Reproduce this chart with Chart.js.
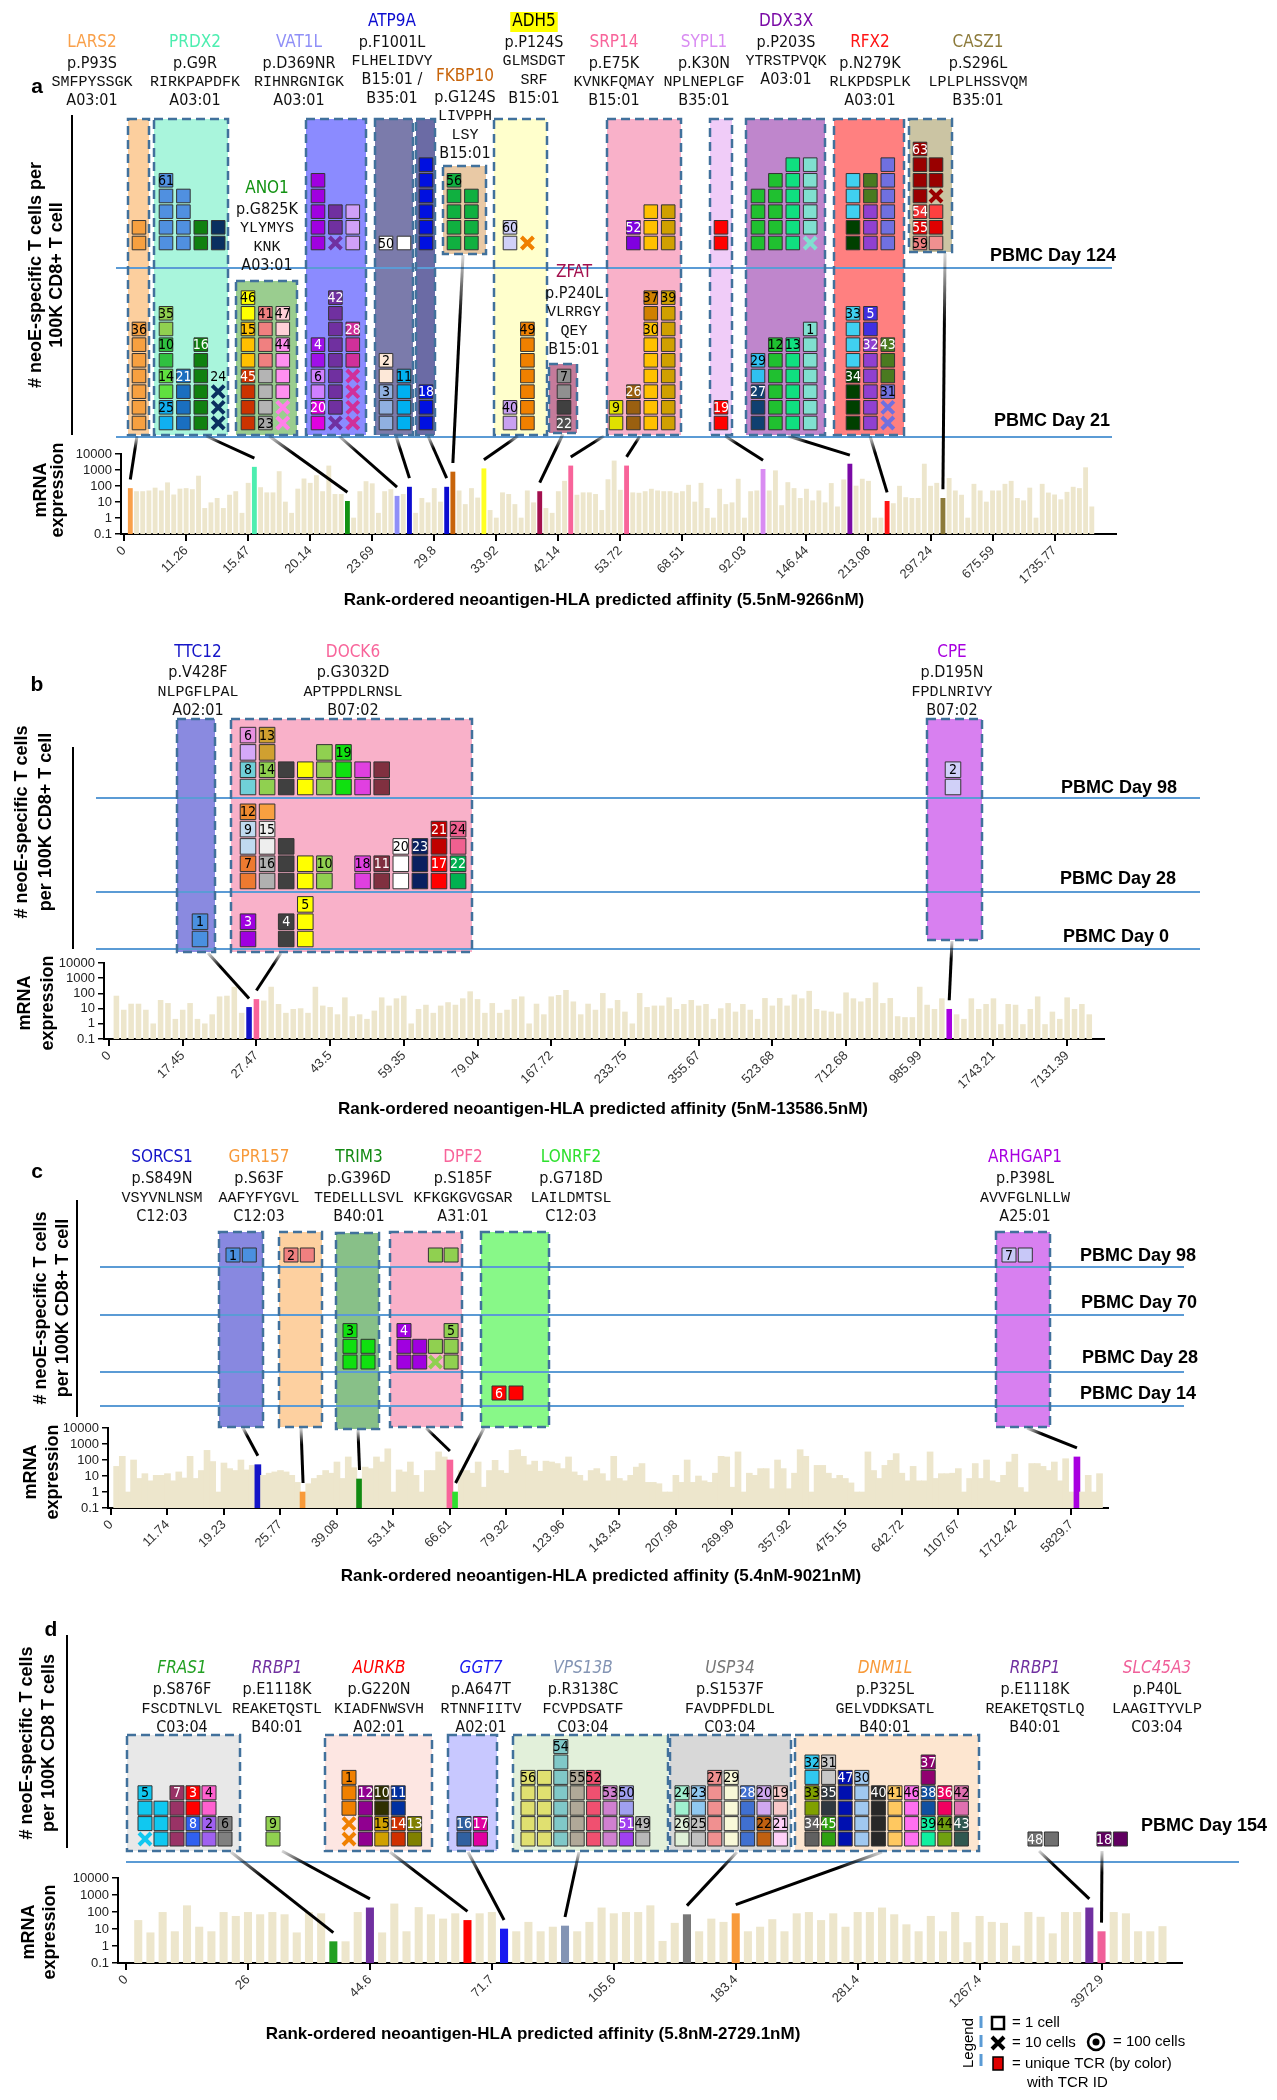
<!DOCTYPE html>
<html>
<head>
<meta charset="utf-8">
<title>neoE-specific T cells vs neoantigen rank</title>
<script src="https://cdn.jsdelivr.net/npm/chart.js@4.4.1/dist/chart.umd.min.js"></script>
<style>
  body { margin: 0; background: #fff; }
  #wrap { position: relative; width: 1277px; height: 2100px; overflow: hidden; background: #fff; }
  canvas { position: absolute; left: 0; }
</style>
</head>
<body>
<div id="wrap">
  <canvas id="panelA" width="1277" height="625" style="top:0px"></canvas>
  <canvas id="panelB" width="1277" height="500" style="top:625px"></canvas>
  <canvas id="panelC" width="1277" height="465" style="top:1125px"></canvas>
  <canvas id="panelD" width="1277" height="510" style="top:1590px"></canvas>
</div>
<script>
const NARROW = '"Liberation Sans Narrow", "DejaVu Sans Condensed", "Arial Narrow", sans-serif';
const SANS = '"Liberation Sans", Arial, Helvetica, sans-serif';
const MONO = '"Liberation Mono", "Courier New", monospace';
const BEIGE = '#ede6cc';

// ---------------- panel a ----------------
const aGene = ['LARS2','PRDX2','ANO1','VAT1L','ATP9A','FKBP10','ADH5','ZFAT','SRP14','SYPL1','DDX3X','RFX2','CASZ1'];
const aMut = ['p.P93S','p.G9R','p.G825K','p.D369NR','p.F1001L','p.G124S','p.P124S','p.P240L','p.E75K','p.K30N','p.P203S','p.N279K','p.S296L'];
const aPep = ['SMFPYSSGK','RIRKPAPDFK','YLYMYS\nKNK','RIHNRGNIGK','FLHELIDVY','LIVPPH\nLSY','GLMSDGT\nSRF','VLRRGY\nQEY','KVNKFQMAY','NPLNEPLGF','YTRSTPVQK','RLKPDSPLK','LPLPLHSSVQM'];
const aHla = ['A03:01','A03:01','A03:01','A03:01','B15:01 /\nB35:01','B15:01','B15:01','B15:01','B15:01','B35:01','A03:01','A03:01','B35:01'];
const aDays = ['PBMC Day 21','PBMC Day 124'];
const aTicks = ['0','11.26','15.47','20.14','23.69','29.8','33.92','42.14','53.72','68.51','92.03','146.44','213.08','297.24','675.59','1735.77'];
const aMrna = [70,45,45,50,75,50,160,28,65,70,
  60,420,4,9,17,4,27,45,2,150,
  1500,80,38,38,800,10,2,65,280,150,
  450,45,1800,30,30,11,1,45,190,140,
  2,45,60,23,30,85,2,17,9,70,
  10,85,750,50,7,70,18,1200,3,1,
  38,30,7,1,50,9,45,4,2,45,
  200,1800,27,38,38,30,3,250,3700,55,
  1800,38,36,45,64,50,45,45,36,45,
  113,10,150,4,1,64,7,9,270,1,
  45,50,1100,50,900,6,165,70,17,64,
  12,50,9,145,5,245,2350,100,270,200,
  1,1,11,8,98,19,17,17,2350,98,
  150,17,300,50,27,1,130,50,10,50,
  50,130,200,17,12,75,1,130,37,28,
  14,41,85,70,1400,5];
// bar rank -> gene
const aHit = [[1,'LARS2'],[21,'PRDX2'],[36,'ANO1'],[44,'VAT1L'],[46,'ATP9A'],[52,'ATP9A'],[53,'FKBP10'],[58,'ADH5'],[67,'ZFAT'],[72,'SRP14'],[81,'SRP14'],[103,'SYPL1'],[117,'DDX3X'],[123,'RFX2'],[132,'CASZ1']];
const aBoxGene = ['LARS2','PRDX2','ANO1','VAT1L','ATP9A','ATP9A','FKBP10','ADH5','ZFAT','SRP14','SYPL1','DDX3X','RFX2','CASZ1'];
const aLinks = [[0,1],[1,21],[2,36],[3,44],[4,46],[5,52],[6,53],[7,58],[8,67],[9,72],[9,81],[10,103],[11,117],[12,123],[13,132]];
// per box: [day21 columns, day124 columns]; column = segments from bottom [colour, count, TCR id, 'x' = 10 cells]
const aCells = [
  [ [[['#f7a040',7,'36']]], [[['#f7a040',2]]] ],
  [ [ [['#10b0f0',2,'25'],['#60e040',2,'14'],['#30c040',2,'10'],['#90d050',2,'35']],
      [['#1a6fc0',4,'21']],
      [['#108010',6,'16']],
      [['#0a3060',3,'','x'],['',0,'24']] ],
    [ [['#5090e0',5,'61']], [['#5090e0',4]], [['#108010',2]], [['#0a3060',2]] ] ],
  [ [ [['#cc3300',4,'45'],['#ffc000',3,'15'],['#ffff00',2,'46']],
      [['#a8a8a8',1,'23'],['#b4b4b4',3],['#f08080',4,'41']],
      [['#ff80e8',2,'','x'],['#ff90f0',4,'44'],['#ffd0d8',2,'47']] ],
    [] ],
  [ [ [['#e000e0',2,'20'],['#d080ff',2,'6'],['#a010e8',2,'4']],
      [['#7030a0',1,'','x'],['#7030a0',8,'42']],
      [['#d0309a',4,'','x'],['#d0309a',3,'28']] ],
    [ [['#a000e0',5]], [['#7030a0',1,'','x'],['#7030a0',2]], [['#d0a0f8',3]] ] ],
  [ [ [['#90b0e0',3,'3'],['#fde8d8',2,'2']], [['#00b0f0',4,'11']] ],
    [ [['#ffffff',1,'50']], [['#ffffff',1]] ] ],
  [ [ [['#0010e0',3,'18']] ], [ [['#0010e0',6]] ] ],
  [ [], [ [['#10b040',5,'56']], [['#10b040',4]] ] ],
  [ [ [['#c8a0f0',2,'40']], [['#f08000',7,'49']] ],
    [ [['#d0d0f8',2,'60']], [['#f08000',1,'','x']] ] ],
  [ [ [['#505050',1,'22'],['#404040',1],['#909090',2,'7']] ], [] ],
  [ [ [['#e0e000',2,'9']], [['#9a6010',3,'26']], [['#ffc000',7,'30'],['#d08000',2,'37']], [['#d0a000',9,'39']] ],
    [ [], [['#8000e0',2,'52']], [['#ffc000',3]], [['#d0a000',3]] ] ],
  [ [ [['#ff0000',2,'19']] ], [ [['#ff0000',2]] ] ],
  [ [ [['#104070',3,'27'],['#30c0f0',2,'29']], [['#20c030',6,'12']], [['#10e080',6,'13']], [['#80e0d0',7,'1']] ],
    [ [['#20c030',4]], [['#20c030',5]], [['#10e080',6]], [['#80e0d0',1,'','x'],['#80e0d0',5]] ] ],
  [ [ [['#004000',4,'34'],['#40d0f0',4,'33']], [['#9040d0',6,'32'],['#4030e0',2,'5']], [['#7070e0',2,'','x'],['#7070e0',1,'31'],['#4a7a20',3,'43']] ],
    [ [['#004000',2],['#40d0f0',3]], [['#9040d0',3],['#4a7a20',2]], [['#7070e0',6]] ] ],
  [ [],
    [ [['#f08080',1,'59'],['#e00000',1,'55'],['#f03030',1,'54'],['#990000',4,'63']],
      [['#f09090',1],['#e00000',1],['#ff4040',1],['#990000',1,'','x'],['#990000',2]] ] ]
];

// ---------------- panel b ----------------
const bGene = ['TTC12','DOCK6','CPE'];
const bMut = ['p.V428F','p.G3032D','p.D195N'];
const bPep = ['NLPGFLPAL','APTPPDLRNSL','FPDLNRIVY'];
const bHla = ['A02:01','B07:02','B07:02'];
const bDays = ['PBMC Day 0','PBMC Day 28','PBMC Day 98'];
const bTicks = ['0','17.45','27.47','43.5','59.35','79.04','167.72','233.75','355.67','523.68','712.68','985.99','1743.21','7131.39'];
const bMrna = [67,8,20,20,8,1,35,22,2,8,
  22,2,1,4,60,67,260,5,12,40,
  32,260,19,5,9,10,5,260,15,12,
  4,52,3,4,2,7,52,15,45,67,
  1,9,17,5,15,25,17,45,130,40,
  5,22,5,8,40,60,1,20,4,60,
  75,160,28,4,20,8,100,10,35,6,
  1,100,12,15,15,52,9,19,35,15,
  19,2,10,22,6,19,8,2,47,15,
  47,15,80,45,140,9,7,6,4.5,110,
  45,28,47,500,22,47,3,2.6,2.6,260,
  17,9,45,9,4,2,45,9,19,45,
  0.9,19,17,0.9,9,60,0.9,6,2,52,
  9,19,4];
const bHit = [[19,'TTC12'],[20,'DOCK6'],[114,'CPE']];
const bBoxGene = ['TTC12','DOCK6','CPE'];
const bLinks = [[0,19],[1,20],[2,114]];
const bCells = [
  [ [ [['#4a90e0',2,'1']] ], [], [] ],
  [ [ [['#a000e0',2,'3']], [], [['#404040',2,'4']], [['#ffff00',3,'5']] ],
    [ [['#ee7a30',2,'7'],['#c0daf0',2,'9'],['#f08a30',1,'12']],
      [['#b0b0b0',2,'16'],['#eeeeee',2,'15'],['#f8a040',1]],
      [['#404040',3]], [['#ffff00',2]], [['#90d050',2,'10']], [],
      [['#e040e0',2,'18']], [['#803040',2,'11']], [['#ffffff',3,'20']], [['#0a2060',3,'23']],
      [['#ff0000',2,'17'],['#c00000',2,'21']], [['#00b050',2,'22'],['#f06090',2,'24']] ],
    [ [['#70d0d8',2,'8'],['#d4a8f8',1],['#e890e0',1,'6']], [['#90d050',2,'14'],['#d0a030',2,'13']],
      [['#404040',2]], [['#ffff00',2]], [['#90d050',3]], [['#10e010',3,'19']], [['#e040e0',2]], [['#803040',2]] ] ],
  [ [], [], [ [['#d0d0f8',2,'2']] ] ]
];

// ---------------- panel c ----------------
const cGene = ['SORCS1','GPR157','TRIM3','DPF2','LONRF2','ARHGAP1'];
const cMut = ['p.S849N','p.S63F','p.G396D','p.S185F','p.G718D','p.P398L'];
const cPep = ['VSYVNLNSM','AAFYFYGVL','TEDELLLSVL','KFKGKGVGSAR','LAILDMTSL','AVVFGLNLLW'];
const cHla = ['C12:03','C12:03','B40:01','A31:01','C12:03','A25:01'];
const cDays = ['PBMC Day 14','PBMC Day 28','PBMC Day 70','PBMC Day 98'];
const cTicks = ['0','11.74','19.23','25.77','39.08','53.14','66.61','79.32','123.96','143.43','207.98','269.99','357.92','475.15','642.72','1107.67','1712.42','5829.7'];
const cMrna = [40,170,1,100,7,14,5,11,11,14,
  5,18,7.5,170,7,22,400,80,1,65,
  29,22,100,24,46,51,11,15,18,22,
  18,11,4,1,3.3,7,11,22,15,75,
  7,155,33,6.5,36,29,155,75,500,1,
  24,18,75,11,1,22,22,320,155,100,
  1,22,22,15,75,2,22,95,22,15,
  400,440,170,50,85,20,85,75,60,29,
  155,18,11,5,22,29,14,5,170,7,
  5,11,36,60,4,4,3.3,1,1,11,
  4,100,4,10,5,4,15,170,155,2,
  320,1,15,11,29,29,1.6,100,29,1.6,
  15,440,170,1,46,46,15,7,11,7,
  3.7,1,1,320,22,7,46,95,250,15,
  5,40,5,5,320,7,14,14,15,29,
  1,7,60,7,100,5,4,11,75,230,
  1.9,1,60,60,40,22,75,5,120,1,
  155,1,11,1,14];
const cHit = [[26,'SORCS1'],[34,'GPR157'],[44,'TRIM3'],[60,'DPF2'],[61,'LONRF2'],[171,'ARHGAP1']];
const cBoxGene = ['SORCS1','GPR157','TRIM3','DPF2','LONRF2','ARHGAP1'];
const cLinks = [[0,26],[1,34],[2,44],[3,60],[4,61],[5,171]];
const cCells = [
  [ [], [], [], [ [['#4a90e0',1,'1']], [['#4a90e0',1]] ] ],
  [ [], [], [], [ [['#f08080',1,'2']], [['#f08080',1]] ] ],
  [ [], [ [['#10e010',3,'3']], [['#10e010',2]] ], [], [] ],
  [ [], [ [['#a000e0',3,'4']], [['#a000e0',2]], [['#90d050',1,'','x'],['#90d050',1]], [['#90d050',3,'5']] ], [],
    [ [], [], [['#90d050',1]], [['#90d050',1]] ] ],
  [ [ [['#ff0000',1,'6']], [['#ff0000',1]] ], [], [], [] ],
  [ [], [], [], [ [['#c8c8f8',1,'7']], [['#c8c8f8',1]] ] ]
];

// ---------------- panel d ----------------
const dGene = ['FRAS1','RRBP1','AURKB','GGT7','VPS13B','USP34','DNM1L','RRBP1','SLC45A3'];
const dMut = ['p.S876F','p.E1118K','p.G220N','p.A647T','p.R3138C','p.S1537F','p.P325L','p.E1118K','p.P40L'];
const dPep = ['FSCDTNLVL','REAKETQSTL','KIADFNWSVH','RTNNFIITV','FCVPDSATF','FAVDPFDLDL','GELVDDKSATL','REAKETQSTLQ','LAAGITYVLP'];
const dHla = ['C03:04','B40:01','A02:01','A02:01','C03:04','C03:04','B40:01','B40:01','C03:04'];
const dDays = ['PBMC Day 154'];
const dTicks = ['0','26','44.6','71.7','105.6','183.4','281.4','1267.4','3972.9'];
const dMrna = [32,6,95,7,235,13,7,95,56,95,
  70,95,70,6,95,80,1.8,1.8,95,175,
  6,300,7,185,70,39,80,32,80,95,
  10,7,25,7,13,15,7,25,175,80,
  95,95,235,1.9,22,70,7,39,25,80,
  7,13,36,7,80,95,32,80,13,95,
  95,175,70,18,7,56,7,95,1.6,56,
  25,22,1,95,50,5.3,95,95,175,7,
  95,80,7,7,14];
const dHit = [[17,'FRAS1'],[20,'RRBP1'],[28,'AURKB'],[31,'GGT7'],[36,'VPS13B'],[46,'USP34'],[50,'DNM1L'],[79,'RRBP1'],[80,'SLC45A3']];
const dBoxGene = ['FRAS1','RRBP1','AURKB','GGT7','VPS13B','USP34','DNM1L','RRBP1','SLC45A3'];
const dLinks = [[0,17],[1,20],[2,28],[3,31],[4,36],[5,46],[6,50],[7,79],[8,80]];
const dCells = [
  [ [ [['#10c8f0',1,'','x'],['#10c8f0',3,'5']], [['#10c8f0',3]], [['#993366',4,'7']],
      [['#3060f0',2,'8'],['#ff0000',2,'3']], [['#a060f0',2,'2'],['#ff60d0',2,'4']], [['#808080',2,'6']] ] ],
  [ [ [['#90d050',2,'9']] ] ],
  [ [ [['#f08000',2,'','x'],['#f08000',3,'1']], [['#900090',4,'12']], [['#d0a000',2,'15'],['#303000',2,'10']],
      [['#d03000',2,'14'],['#0030a0',2,'11']], [['#808000',2,'13']] ] ],
  [ [ [['#3060a0',2,'16']], [['#e000a0',2,'17']] ] ],
  [ [ [['#e0e070',5,'56']], [['#e0e070',5]], [['#80c8c8',7,'54']], [['#b0a898',5,'55']], [['#f05070',5,'52']],
      [['#d080d0',4,'53']], [['#a040f0',2,'51'],['#a0a0f0',2,'50']], [['#b8b8b8',2,'49']] ] ],
  [ [ [['#e0f0d8',2,'26'],['#a0f0d0',2,'24']], [['#c0c0c0',2,'25'],['#90c8f0',2,'23']], [['#f09090',5,'27']],
      [['#f8f8d8',5,'29']], [['#4070d0',4,'28']], [['#c06010',2,'22'],['#d0a8f0',2,'20']], [['#ffd0f8',2,'21'],['#f8c8c8',2,'19']] ] ],
  [ [ [['#606060',2,'34'],['#80a000',2,'33'],['#30c8f0',2,'32']], [['#30a010',2,'45'],['#303840',2,'35'],['#c8c8c8',2,'31']],
      [['#0010b0',5,'47']], [['#a0c8f0',5,'30']], [['#282828',4,'40']], [['#ffc860',4,'41']], [['#ff70f0',4,'46']],
      [['#10f0a0',2,'39'],['#1050a0',2,'38'],['#900070',2,'37']], [['#70a010',2,'44'],['#f00060',2,'36']],
      [['#305850',2,'43'],['#e070b0',2,'42']] ] ],
  [ [ [['#707070',1,'48']], [['#707070',1]] ] ],
  [ [ [['#600060',1,'18']], [['#600060',1]] ] ]
];

// ---------------- colours and layout (page pixels) ----------------
const aCol = {LARS2:'#f9a04a', PRDX2:'#4deeb0', ANO1:'#129212', VAT1L:'#8f8ff7', ATP9A:'#0c0cd0', FKBP10:'#c8640a', ADH5:'#ffff22', ZFAT:'#a3104e', SRP14:'#f8649a', SYPL1:'#d98cf2', DDX3X:'#7a0aa6', RFX2:'#ff1414', CASZ1:'#8c7a3a'};
const bCol = {TTC12:'#1414c8', DOCK6:'#f8649a', CPE:'#a800e0'};
const cCol = {SORCS1:'#1414c8', GPR157:'#f89a3a', TRIM3:'#128a12', DPF2:'#f8649a', LONRF2:'#2ee02e', ARHGAP1:'#a800e0'};
const dCol = {FRAS1:'#22a022', RRBP1:'#7030a0', AURKB:'#ff0000', GGT7:'#1a1af0', VPS13B:'#8394b4', USP34:'#777777', DNM1L:'#f89a3a', SLC45A3:'#f0609a'};

const aLay = {
  letter: 'a', top: 0, L: 121, R: 1116, T: 117, M: 454, B: 534, xH: 91, xMin: -0.5, xMax: 159.9,
  barW: 4.2, sqR: 9.6, crossR: 8.5, pitch: 15.67, colPitch: 17.4,
  dayLine: [437, 268], dayBase: [423, 243], lineX: [116, 1112], dayLabel: [[994, 421], [990, 256]],
  labelXY: [[92,43],[195,43],[267,189],[299,43],[392,22],[465,77],[534,22],[574,273],[614,43],[704,43],[786,22],[870,43],[978,43]],
  gap1: 21, gap: 18.5, nameBg: {ADH5: '#ffff00'},
  boxes: [[128,149,119,435,'#fccf9e',139],[154,228,119,435,'#a9f5dc',166],[236,297,281,435,'#9acd8f',248],
    [306,366,119,435,'#8b8bff',318],[375,413,119,435,'#7b7bab',386,18],[416,435,119,435,'#6b6ba5',426],
    [443,486,166,254,'#e9c9a5',454],[494,547,119,435,'#ffffcc',510],[549,577,364,433,'#c57b9b',564],
    [607,681,119,435,'#f9b1c9',616],[710,732,119,435,'#f0ccf8',721],[746,825,119,435,'#bf86cc',758],
    [834,904,119,435,'#ff8080',853],[909,952,119,252,'#cbc4a3',920,16]],
  linkX: [137,206,269,339,396,428,463,518,563,604,640,725,788,870,945],
  axisLine: [72, 115, 435], letterXY: [37, 87],
  yTitle: [['# neoE-specific T cells per','100K CD8+ T cell'], 36, 57, 275],
  mTitle: [41, 58, 490],
  xTitle: ['Rank-ordered neoantigen-HLA predicted affinity (5.5nM-9266nM)', 604, 600]
};
const bLay = {
  letter: 'b', top: 625, L: 104, R: 1104, T: 717, M: 963, B: 1039, xH: 86, xMin: -0.68, xMax: 135,
  barW: 4.9, sqR: 11, crossR: 8.5, pitch: 17.3, colPitch: 19.1,
  dayLine: [949, 892, 798], dayBase: [939, 881, 787], lineX: [96, 1200], dayLabel: [[1063, 937], [1060, 879], [1061, 788]],
  labelXY: [[198,653],[353,653],[952,653]], gap1: 20, gap: 19, nameBg: {},
  boxes: [[177,215,719,952,'#8a8ae0',200],[231,472,719,952,'#f9b1c9',248],[927,982,719,940,'#d880f0',953]],
  linkX: [208, 281, 952],
  axisLine: [73, 747, 949], letterXY: [37, 685],
  yTitle: [['# neoE-specific T cells','per 100K CD8+ T cell'], 22, 46, 822],
  mTitle: [25, 48, 1003],
  xTitle: ['Rank-ordered neoantigen-HLA predicted affinity (5nM-13586.5nM)', 603, 1109]
};
const cLay = {
  letter: 'c', top: 1125, L: 108, R: 1108, T: 1230, M: 1428, B: 1508, xH: 82, xMin: -0.53, xMax: 176.5,
  barW: 6, sqR: 9.9, crossR: 8.5, pitch: 15.7, colPitch: 16.3,
  dayLine: [1406, 1372, 1315, 1267], dayBase: [1393, 1362, 1303, 1255], lineX: [100, 1184],
  dayLabel: [[1080, 1394], [1082, 1358], [1081, 1303], [1080, 1256]],
  labelXY: [[162,1158],[259,1158],[359,1158],[463,1158],[571,1158],[1025,1158]], gap1: 21, gap: 19, nameBg: {},
  boxes: [[219,263,1232,1427,'#8888e0',233],[279,322,1232,1427,'#fdd0a0',291],[336,379,1233,1429,'#88c088',350,18],
    [390,462,1232,1427,'#f9b1c9',404,15.7],[481,549,1232,1427,'#88f888',499,17],[996,1050,1232,1427,'#d880f0',1009]],
  linkX: [243, 301, 358, 426, 484, 1027],
  axisLine: [77, 1200, 1417], letterXY: [37, 1172],
  yTitle: [['# neoE-specific T cells','per 100K CD8+ T cell'], 41, 63, 1308],
  mTitle: [31, 53, 1472],
  xTitle: ['Rank-ordered neoantigen-HLA predicted affinity (5.4nM-9021nM)', 601, 1576]
};
const dLay = {
  letter: 'd', top: 1590, L: 118, R: 1182, T: 1731, M: 1878, B: 1963, xH: 137, xMin: -0.66, xMax: 86.6,
  barW: 7.4, sqR: 9.9, crossR: 8.5, pitch: 15.4, colPitch: 16.4, italic: true,
  dayLine: [1862], dayBase: [1839], lineX: [126, 1239], dayLabel: [[1141, 1826]],
  labelXY: [[182,1669],[277,1669],[379,1669],[481,1669],[583,1669],[730,1669],[885,1669],[1035,1669],[1157,1669]],
  gap1: 21, gap: 19, nameBg: {},
  boxes: [[127,240,1735,1851,'#e8e8e8',145,16],[265,290,1820,1850,null,273],[325,432,1735,1851,'#fde6e2',349],
    [448,497,1735,1851,'#c8c8ff',464],[513,668,1735,1851,'#e2f0da',528],[670,791,1735,1851,'#d8d8d8',682],
    [795,979,1735,1851,'#fde6d0',812,16.6],[1028,1060,1820,1850,null,1035],[1097,1130,1820,1850,null,1104]],
  linkX: [231, 282, 390, 468, 579, 737, 882, 1039, 1102],
  axisLine: [67, 1635, 1848], letterXY: [51, 1630],
  yTitle: [['# neoE-specific T cells','per 100K CD8 T cells'], 27, 49, 1743],
  mTitle: [29, 50, 1932],
  xTitle: ['Rank-ordered neoantigen-HLA predicted affinity (5.8nM-2729.1nM)', 533, 2034],
  legend: true
};

// turn the clone columns into scatter points
function buildCells(cells, L) {
  const pts = [];
  cells.forEach((days, b) => {
    const bx = L.boxes[b];
    const cp = bx[6] || L.colPitch;
    days.forEach((cols, d) => {
      cols.forEach((col, ci) => {
        let r = 0;
        const x = bx[5] + ci * cp;
        col.forEach(seg => {
          const [c, n, id, kind] = seg;
          if (n === 0) {
            pts.push({x: x, y: L.dayBase[d] - r * L.pitch, c: '#000', txt: true, id: id});
            r++;
            return;
          }
          for (let k = 0; k < n; k++) {
            pts.push({x: x, y: L.dayBase[d] - r * L.pitch, c: c, cross: kind === 'x', id: k === n - 1 ? (id || '') : ''});
            r++;
          }
        });
      });
    });
  });
  return pts;
}

function textOn(hex) {
  const v = parseInt(hex.slice(1), 16);
  const r = (v >> 16) & 255, g = (v >> 8) & 255, b = v & 255;
  const lum = (0.299 * r + 0.587 * g + 0.114 * b) / 255;
  return lum < 0.45 ? '#fff' : '#000';
}

function drawLegend(ctx, X, Y) {
  ctx.save();
  ctx.fillStyle = '#000';
  ctx.textBaseline = 'middle';
  ctx.font = '15px ' + SANS;
  ctx.save();
  ctx.translate(X(969), Y(2043));
  ctx.rotate(-Math.PI / 2);
  ctx.textAlign = 'center';
  ctx.fillText('Legend', 0, 0);
  ctx.restore();
  ctx.strokeStyle = '#5b9bd5';
  ctx.lineWidth = 3;
  ctx.setLineDash([12, 7]);
  ctx.beginPath(); ctx.moveTo(X(981), Y(2016)); ctx.lineTo(X(981), Y(2070)); ctx.stroke();
  ctx.setLineDash([]);
  ctx.strokeStyle = '#000';
  ctx.lineWidth = 2.5;
  ctx.strokeRect(X(992), Y(2017), 12, 12);
  ctx.lineWidth = 4;
  ctx.beginPath();
  ctx.moveTo(X(992), Y(2037)); ctx.lineTo(X(1004), Y(2049));
  ctx.moveTo(X(1004), Y(2037)); ctx.lineTo(X(992), Y(2049));
  ctx.stroke();
  ctx.lineWidth = 2.5;
  ctx.beginPath(); ctx.arc(X(1096), Y(2042), 8, 0, Math.PI * 2); ctx.stroke();
  ctx.beginPath(); ctx.arc(X(1096), Y(2042), 3.5, 0, Math.PI * 2); ctx.fill();
  ctx.fillStyle = '#e00000';
  ctx.fillRect(X(993), Y(2057), 10, 13);
  ctx.lineWidth = 1.5;
  ctx.strokeRect(X(993), Y(2057), 10, 13);
  ctx.fillStyle = '#000';
  ctx.textAlign = 'left';
  ctx.fillText('= 1 cell', X(1012), Y(2023));
  ctx.fillText('= 10 cells', X(1012), Y(2043));
  ctx.fillText('= 100 cells', X(1113), Y(2042));
  ctx.fillText('= unique TCR (by color)', X(1012), Y(2064));
  ctx.fillText('with TCR ID', X(1027), Y(2083));
  ctx.restore();
}

// boxes, time lines, connectors and all the text around the axes
function deco(P) {
  const L = P.lay;
  return {
    id: 'deco',
    beforeDatasetsDraw(chart) {
      const ctx = chart.ctx;
      const X = v => chart.scales.xg.getPixelForValue(v);
      const Y = v => chart.scales.yc.getPixelForValue(v);
      ctx.save();
      L.boxes.forEach(b => {
        if (!b[4]) return;
        ctx.fillStyle = b[4];
        ctx.fillRect(X(b[0]), Y(b[2]), X(b[1]) - X(b[0]), Y(b[3]) - Y(b[2]));
      });
      ctx.strokeStyle = '#5b9bd5';
      ctx.lineWidth = 2;
      L.dayLine.forEach(y => {
        ctx.beginPath(); ctx.moveTo(X(L.lineX[0]), Y(y)); ctx.lineTo(X(L.lineX[1]), Y(y)); ctx.stroke();
      });
      ctx.strokeStyle = '#41719c';
      ctx.lineWidth = 2.5;
      ctx.setLineDash([9, 5]);
      L.boxes.forEach(b => {
        if (!b[4]) return;
        ctx.strokeRect(X(b[0]), Y(b[2]), X(b[1]) - X(b[0]), Y(b[3]) - Y(b[2]));
      });
      ctx.restore();
    },
    afterDatasetsDraw(chart) {
      const ctx = chart.ctx;
      const meta = chart.getDatasetMeta(1);
      const pts = chart.data.datasets[1].data;
      ctx.save();
      ctx.font = '14px ' + NARROW;
      ctx.textAlign = 'center';
      ctx.textBaseline = 'middle';
      meta.data.forEach((el, i) => {
        const p = pts[i];
        if (!p.id) return;
        ctx.fillStyle = p.txt ? '#000' : textOn(p.c);
        ctx.fillText(p.id, el.x, el.y + 1);
      });
      ctx.restore();
    },
    afterDraw(chart) {
      const ctx = chart.ctx;
      const X = v => chart.scales.xg.getPixelForValue(v);
      const Y = v => chart.scales.yc.getPixelForValue(v);
      const xs = chart.scales.x, ym = chart.scales.ym;
      ctx.save();
      // connectors box -> highlighted bar
      P.links.forEach(([b, idx], k) => {
        const sx = X(L.linkX[k]), sy = Y(L.boxes[b][3] + 1);
        const ex = xs.getPixelForValue(idx), ey = ym.getPixelForValue(P.mrna[idx - 1]) - 9;
        const g = ctx.createLinearGradient(sx, sy, ex, ey);
        g.addColorStop(0, 'rgba(0,0,0,0.15)');
        g.addColorStop(0.3, '#000');
        g.addColorStop(1, '#000');
        ctx.strokeStyle = g;
        ctx.lineWidth = 3;
        ctx.beginPath(); ctx.moveTo(sx, sy); ctx.lineTo(ex, ey); ctx.stroke();
      });
      // gene / mutation / peptide / HLA
      ctx.textAlign = 'center';
      ctx.textBaseline = 'middle';
      P.genes.forEach((gname, i) => {
        const [x, y0] = L.labelXY[i];
        let y = y0;
        ctx.font = (L.italic ? 'italic ' : '') + '17px ' + NARROW;
        const bg = L.nameBg[gname];
        if (bg) {
          const w = ctx.measureText(gname).width;
          ctx.fillStyle = bg;
          ctx.fillRect(X(x) - w / 2 - 2, Y(y) - 10, w + 4, 20);
        }
        ctx.fillStyle = bg ? '#000' : P.colors[gname];
        ctx.fillText(gname, X(x), Y(y));
        y += L.gap1;
        const lines = [[P.muts[i], '16px ' + NARROW]];
        P.peps[i].split('\n').forEach(s => lines.push([s, '15px ' + MONO]));
        P.hlas[i].split('\n').forEach(s => lines.push([s, '16px ' + NARROW]));
        ctx.fillStyle = '#111';
        lines.forEach(([s, f]) => {
          ctx.font = f;
          ctx.fillText(s, X(x), Y(y));
          y += L.gap;
        });
      });
      // day labels
      ctx.font = 'bold 18px ' + SANS;
      ctx.textAlign = 'left';
      ctx.fillStyle = '#000';
      P.days.forEach((d, i) => ctx.fillText(d, X(L.dayLabel[i][0]), Y(L.dayLabel[i][1])));
      // cells axis line
      ctx.strokeStyle = '#000';
      ctx.lineWidth = 2;
      ctx.beginPath(); ctx.moveTo(X(L.axisLine[0]), Y(L.axisLine[1])); ctx.lineTo(X(L.axisLine[0]), Y(L.axisLine[2])); ctx.stroke();
      // panel letter
      ctx.font = 'bold 21px ' + SANS;
      ctx.textAlign = 'center';
      ctx.fillText(L.letter, X(L.letterXY[0]), Y(L.letterXY[1]));
      // rotated axis titles
      ctx.font = 'bold 18px ' + SANS;
      const [yt, yx1, yx2, ycy] = L.yTitle;
      [[yt[0], yx1], [yt[1], yx2]].forEach(([s, xx]) => {
        ctx.save(); ctx.translate(X(xx), Y(ycy)); ctx.rotate(-Math.PI / 2); ctx.fillText(s, 0, 0); ctx.restore();
      });
      [['mRNA', L.mTitle[0]], ['expression', L.mTitle[1]]].forEach(([s, xx]) => {
        ctx.save(); ctx.translate(X(xx), Y(L.mTitle[2])); ctx.rotate(-Math.PI / 2); ctx.fillText(s, 0, 0); ctx.restore();
      });
      ctx.font = 'bold 17px ' + SANS;
      ctx.fillText(L.xTitle[0], X(L.xTitle[1]), Y(L.xTitle[2]));
      if (L.legend) drawLegend(ctx, X, Y);
      ctx.restore();
    }
  };
}

function makePanel(canvasId, P) {
  const L = P.lay;
  const hitCol = {};
  P.hits.forEach(([i, g]) => { hitCol[i] = P.colors[g]; });
  const bars = P.mrna.map((v, i) => ({x: i + 1, y: [0.1, v]}));
  const cells = buildCells(P.cells, L);
  return new Chart(document.getElementById(canvasId), {
    data: {
      datasets: [
        {
          type: 'bar', xAxisID: 'x', yAxisID: 'ym', data: bars, grouped: false,
          backgroundColor: ctx => hitCol[ctx.dataIndex + 1] || BEIGE,
          barThickness: L.barW
        },
        {
          type: 'scatter', xAxisID: 'xg', yAxisID: 'yc', data: cells, clip: false,
          pointStyle: ctx => (ctx.raw && ctx.raw.cross) ? 'crossRot' : 'rect',
          pointRadius: ctx => !ctx.raw || ctx.raw.txt ? 0 : (ctx.raw.cross ? L.crossR : L.sqR),
          backgroundColor: ctx => ctx.raw ? ctx.raw.c : '#000',
          borderColor: ctx => (ctx.raw && ctx.raw.cross) ? ctx.raw.c : '#333',
          borderWidth: ctx => (ctx.raw && ctx.raw.cross) ? 4 : 1
        }
      ]
    },
    options: {
      responsive: false,
      animation: false,
      events: [],
      layout: {padding: {left: 0, right: 1277 - L.R, top: L.T - L.top, bottom: 0}},
      plugins: {legend: {display: false}, tooltip: {enabled: false}},
      scales: {
        x: {
          type: 'linear', position: 'bottom', min: L.xMin, max: L.xMax, offset: false,
          afterBuildTicks: s => { s.ticks = P.ticks.map((t, i) => ({value: i * 10})); },
          afterFit: s => { s.height = L.xH; },
          ticks: {autoSkip: false, maxRotation: 45, minRotation: 45, padding: 2, color: '#333',
            font: {family: SANS, size: 13}, callback: v => P.ticks[Math.round(v / 10)]},
          grid: {display: true, offset: false, drawOnChartArea: false, drawTicks: true, tickLength: 7, color: '#000', lineWidth: 2},
          border: {display: true, color: '#000', width: 2}
        },
        xg: {type: 'linear', display: false, min: L.L, max: L.R, offset: false},
        // stacked left axes: the log mRNA axis is declared first so it sits at the bottom
        ym: {
          type: 'logarithmic', position: 'left', stack: 'p', stackWeight: L.B - L.M, min: 0.1, max: 10000,
          afterBuildTicks: s => { s.ticks = [0.1, 1, 10, 100, 1000, 10000].map(v => ({value: v})); },
          afterFit: s => { s.width = L.L; },
          ticks: {autoSkip: false, padding: 3, color: '#222', font: {family: SANS, size: 13}, callback: v => String(v)},
          grid: {display: true, drawOnChartArea: false, drawTicks: true, tickLength: 6, color: '#000', lineWidth: 1.5},
          border: {display: true, color: '#000', width: 2}
        },
        yc: {
          type: 'linear', position: 'left', stack: 'p', stackWeight: L.M - L.T, reverse: true, min: L.T, max: L.M,
          ticks: {display: false}, grid: {display: false}, border: {display: false},
          afterFit: s => { s.width = L.L; }
        }
      }
    },
    plugins: [deco(P)]
  });
}

makePanel('panelA', {genes: aGene, muts: aMut, peps: aPep, hlas: aHla, days: aDays, ticks: aTicks, mrna: aMrna,
  hits: aHit, links: aLinks, cells: aCells, colors: aCol, lay: aLay});
makePanel('panelB', {genes: bGene, muts: bMut, peps: bPep, hlas: bHla, days: bDays, ticks: bTicks, mrna: bMrna,
  hits: bHit, links: bLinks, cells: bCells, colors: bCol, lay: bLay});
makePanel('panelC', {genes: cGene, muts: cMut, peps: cPep, hlas: cHla, days: cDays, ticks: cTicks, mrna: cMrna,
  hits: cHit, links: cLinks, cells: cCells, colors: cCol, lay: cLay});
makePanel('panelD', {genes: dGene, muts: dMut, peps: dPep, hlas: dHla, days: dDays, ticks: dTicks, mrna: dMrna,
  hits: dHit, links: dLinks, cells: dCells, colors: dCol, lay: dLay});
</script>
</body>
</html>
